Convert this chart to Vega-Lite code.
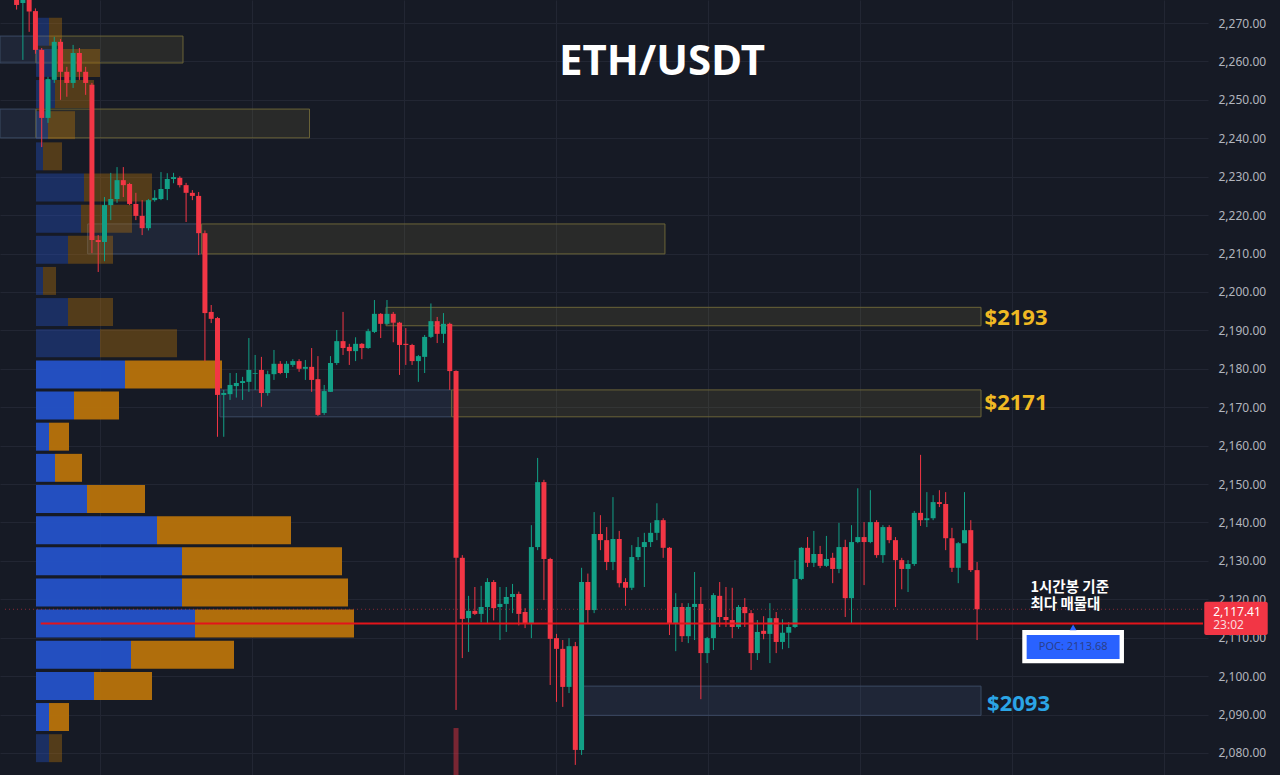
{
"$schema": "https://vega.github.io/schema/vega-lite/v6.json",
"width": 1208, "height": 775,
"autosize": {"type": "none"},
"padding": {"left": 0, "top": 0, "right": 72, "bottom": 0},
"background": "#161a25",
"config": {"view": {"stroke": null}, "font": "Noto Sans"},
"datasets": {
"candles": [
{"t":0,"o":2277.0,"h":2279.0,"l":2273.5,"c":2274.7},
{"t":1,"o":2275.2,"h":2279.0,"l":2260.4,"c":2277.0},
{"t":2,"o":2276.5,"h":2278.0,"l":2267.7,"c":2273.0},
{"t":3,"o":2273.1,"h":2273.8,"l":2262.0,"c":2263.0},
{"t":4,"o":2263.0,"h":2263.5,"l":2237.7,"c":2245.3},
{"t":5,"o":2245.3,"h":2256.0,"l":2244.0,"c":2255.4},
{"t":6,"o":2255.2,"h":2266.4,"l":2254.4,"c":2265.1},
{"t":7,"o":2265.1,"h":2265.8,"l":2250.0,"c":2257.3},
{"t":8,"o":2257.3,"h":2258.6,"l":2250.8,"c":2254.4},
{"t":9,"o":2254.4,"h":2264.3,"l":2253.1,"c":2262.2},
{"t":10,"o":2262.2,"h":2263.5,"l":2255.2,"c":2257.3},
{"t":11,"o":2257.3,"h":2258.6,"l":2251.3,"c":2254.4},
{"t":12,"o":2253.9,"h":2254.4,"l":2210.1,"c":2213.5},
{"t":13,"o":2213.5,"h":2214.8,"l":2205.2,"c":2213.0},
{"t":14,"o":2213.0,"h":2224.7,"l":2208.0,"c":2222.6},
{"t":15,"o":2222.6,"h":2231.0,"l":2218.7,"c":2224.2},
{"t":16,"o":2224.2,"h":2232.5,"l":2223.2,"c":2229.1},
{"t":17,"o":2229.1,"h":2232.5,"l":2224.7,"c":2227.8},
{"t":18,"o":2228.1,"h":2228.4,"l":2222.6,"c":2222.9},
{"t":19,"o":2222.9,"h":2225.8,"l":2218.7,"c":2219.8},
{"t":20,"o":2219.8,"h":2223.9,"l":2214.8,"c":2216.6},
{"t":21,"o":2216.6,"h":2224.2,"l":2216.0,"c":2223.9},
{"t":22,"o":2223.9,"h":2226.5,"l":2223.5,"c":2224.5},
{"t":23,"o":2224.2,"h":2231.2,"l":2223.9,"c":2226.8},
{"t":24,"o":2226.8,"h":2230.9,"l":2223.9,"c":2229.4},
{"t":25,"o":2229.4,"h":2231.0,"l":2228.3,"c":2229.9},
{"t":26,"o":2229.7,"h":2230.1,"l":2227.2,"c":2227.8},
{"t":27,"o":2227.8,"h":2228.4,"l":2218.2,"c":2225.8},
{"t":28,"o":2225.8,"h":2226.5,"l":2223.9,"c":2225.0},
{"t":29,"o":2225.0,"h":2226.0,"l":2209.6,"c":2215.3},
{"t":30,"o":2215.3,"h":2216.0,"l":2182.0,"c":2194.5},
{"t":31,"o":2194.8,"h":2196.6,"l":2191.9,"c":2193.0},
{"t":32,"o":2193.2,"h":2193.5,"l":2162.3,"c":2173.2},
{"t":33,"o":2173.2,"h":2174.5,"l":2162.3,"c":2173.7},
{"t":34,"o":2173.4,"h":2178.9,"l":2171.9,"c":2175.8},
{"t":35,"o":2175.5,"h":2178.9,"l":2172.5,"c":2176.3},
{"t":36,"o":2176.3,"h":2177.9,"l":2171.9,"c":2176.8},
{"t":37,"o":2176.6,"h":2188.0,"l":2174.0,"c":2179.7},
{"t":38,"o":2178.7,"h":2183.6,"l":2174.5,"c":2178.9},
{"t":39,"o":2179.7,"h":2183.1,"l":2170.1,"c":2173.7},
{"t":40,"o":2173.7,"h":2179.5,"l":2173.0,"c":2178.6},
{"t":41,"o":2178.6,"h":2184.9,"l":2177.1,"c":2181.3},
{"t":42,"o":2181.3,"h":2182.0,"l":2178.6,"c":2178.9},
{"t":43,"o":2178.9,"h":2182.0,"l":2177.6,"c":2181.3},
{"t":44,"o":2181.0,"h":2182.5,"l":2180.5,"c":2182.0},
{"t":45,"o":2182.0,"h":2182.5,"l":2179.2,"c":2180.0},
{"t":46,"o":2180.0,"h":2182.3,"l":2177.1,"c":2180.5},
{"t":47,"o":2180.5,"h":2185.4,"l":2174.0,"c":2177.1},
{"t":48,"o":2177.3,"h":2183.3,"l":2167.7,"c":2168.0},
{"t":49,"o":2168.5,"h":2175.8,"l":2168.0,"c":2174.2},
{"t":50,"o":2174.0,"h":2183.3,"l":2174.0,"c":2181.5},
{"t":51,"o":2181.5,"h":2190.1,"l":2181.0,"c":2187.2},
{"t":52,"o":2187.2,"h":2194.8,"l":2183.6,"c":2185.4},
{"t":53,"o":2185.7,"h":2186.5,"l":2181.0,"c":2184.6},
{"t":54,"o":2184.6,"h":2188.2,"l":2182.0,"c":2186.5},
{"t":55,"o":2186.5,"h":2186.7,"l":2182.5,"c":2185.4},
{"t":56,"o":2185.4,"h":2190.4,"l":2185.2,"c":2189.8},
{"t":57,"o":2189.6,"h":2197.9,"l":2189.3,"c":2194.3},
{"t":58,"o":2194.3,"h":2194.5,"l":2188.0,"c":2191.7},
{"t":59,"o":2191.7,"h":2197.9,"l":2191.4,"c":2194.3},
{"t":60,"o":2194.3,"h":2194.8,"l":2186.9,"c":2192.0},
{"t":61,"o":2192.0,"h":2192.2,"l":2178.4,"c":2186.2},
{"t":62,"o":2186.5,"h":2190.6,"l":2181.0,"c":2186.2},
{"t":63,"o":2186.2,"h":2186.5,"l":2181.0,"c":2182.0},
{"t":64,"o":2182.0,"h":2183.6,"l":2176.6,"c":2183.3},
{"t":65,"o":2183.1,"h":2188.8,"l":2178.9,"c":2188.3},
{"t":66,"o":2188.3,"h":2197.0,"l":2188.0,"c":2192.4},
{"t":67,"o":2192.4,"h":2193.5,"l":2186.7,"c":2189.1},
{"t":68,"o":2189.1,"h":2194.5,"l":2186.7,"c":2191.7},
{"t":69,"o":2191.7,"h":2192.0,"l":2174.5,"c":2179.4},
{"t":70,"o":2179.4,"h":2179.6,"l":2091.2,"c":2130.8},
{"t":71,"o":2130.8,"h":2131.5,"l":2104.7,"c":2114.9},
{"t":72,"o":2115.1,"h":2120.9,"l":2106.3,"c":2117.0},
{"t":73,"o":2117.0,"h":2123.2,"l":2115.9,"c":2116.2},
{"t":74,"o":2116.2,"h":2123.5,"l":2114.0,"c":2118.0},
{"t":75,"o":2118.0,"h":2125.5,"l":2113.8,"c":2124.5},
{"t":76,"o":2124.5,"h":2125.0,"l":2114.5,"c":2117.7},
{"t":77,"o":2118.0,"h":2123.2,"l":2109.4,"c":2118.8},
{"t":78,"o":2118.8,"h":2123.2,"l":2111.5,"c":2120.6},
{"t":79,"o":2120.6,"h":2124.0,"l":2116.4,"c":2121.4},
{"t":80,"o":2121.4,"h":2122.0,"l":2113.2,"c":2116.2},
{"t":81,"o":2116.7,"h":2117.7,"l":2112.5,"c":2113.8},
{"t":82,"o":2113.8,"h":2139.3,"l":2109.9,"c":2133.6},
{"t":83,"o":2133.6,"h":2156.8,"l":2132.8,"c":2150.5},
{"t":84,"o":2150.5,"h":2151.1,"l":2119.8,"c":2130.5},
{"t":85,"o":2130.5,"h":2130.8,"l":2097.7,"c":2109.7},
{"t":86,"o":2109.9,"h":2111.0,"l":2093.3,"c":2107.1},
{"t":87,"o":2107.1,"h":2109.4,"l":2092.0,"c":2097.2},
{"t":88,"o":2097.2,"h":2109.9,"l":2095.6,"c":2107.8},
{"t":89,"o":2107.8,"h":2108.9,"l":2076.9,"c":2080.8},
{"t":90,"o":2080.8,"h":2128.2,"l":2079.5,"c":2124.5},
{"t":91,"o":2124.5,"h":2126.7,"l":2113.8,"c":2117.2},
{"t":92,"o":2117.2,"h":2142.7,"l":2116.4,"c":2137.0},
{"t":93,"o":2137.0,"h":2141.9,"l":2132.8,"c":2135.4},
{"t":94,"o":2135.4,"h":2138.8,"l":2127.6,"c":2129.7},
{"t":95,"o":2129.7,"h":2146.6,"l":2127.6,"c":2135.7},
{"t":96,"o":2135.7,"h":2137.8,"l":2123.1,"c":2124.2},
{"t":97,"o":2124.5,"h":2125.5,"l":2118.3,"c":2123.0},
{"t":98,"o":2123.0,"h":2134.1,"l":2122.4,"c":2131.0},
{"t":99,"o":2131.0,"h":2136.2,"l":2130.2,"c":2133.6},
{"t":100,"o":2133.6,"h":2137.3,"l":2123.2,"c":2134.9},
{"t":101,"o":2134.9,"h":2139.9,"l":2133.6,"c":2137.3},
{"t":102,"o":2137.3,"h":2145.0,"l":2135.4,"c":2140.6},
{"t":103,"o":2140.6,"h":2141.1,"l":2130.8,"c":2133.4},
{"t":104,"o":2133.4,"h":2133.6,"l":2110.7,"c":2113.8},
{"t":105,"o":2113.8,"h":2121.6,"l":2106.5,"c":2118.0},
{"t":106,"o":2118.0,"h":2119.0,"l":2108.9,"c":2110.4},
{"t":107,"o":2110.4,"h":2119.0,"l":2108.6,"c":2118.0},
{"t":108,"o":2118.0,"h":2127.1,"l":2109.4,"c":2118.8},
{"t":109,"o":2118.8,"h":2123.2,"l":2094.0,"c":2106.0},
{"t":110,"o":2106.0,"h":2110.2,"l":2103.4,"c":2109.9},
{"t":111,"o":2109.9,"h":2121.6,"l":2106.8,"c":2121.1},
{"t":112,"o":2120.9,"h":2124.5,"l":2112.8,"c":2115.4},
{"t":113,"o":2115.4,"h":2123.2,"l":2112.8,"c":2114.6},
{"t":114,"o":2114.6,"h":2123.0,"l":2109.9,"c":2112.8},
{"t":115,"o":2112.8,"h":2118.5,"l":2112.3,"c":2118.0},
{"t":116,"o":2118.0,"h":2120.3,"l":2112.8,"c":2116.4},
{"t":117,"o":2116.4,"h":2117.2,"l":2101.6,"c":2106.0},
{"t":118,"o":2106.0,"h":2114.6,"l":2104.2,"c":2111.5},
{"t":119,"o":2111.8,"h":2115.6,"l":2109.6,"c":2111.0},
{"t":120,"o":2111.0,"h":2119.0,"l":2103.4,"c":2115.1},
{"t":121,"o":2115.1,"h":2116.7,"l":2106.0,"c":2108.9},
{"t":122,"o":2108.9,"h":2114.8,"l":2107.0,"c":2111.3},
{"t":123,"o":2111.3,"h":2114.1,"l":2107.3,"c":2112.8},
{"t":124,"o":2112.8,"h":2130.2,"l":2112.5,"c":2125.3},
{"t":125,"o":2125.3,"h":2133.6,"l":2125.0,"c":2133.4},
{"t":126,"o":2133.4,"h":2136.2,"l":2128.4,"c":2129.5},
{"t":127,"o":2129.5,"h":2137.8,"l":2128.4,"c":2131.8},
{"t":128,"o":2131.8,"h":2133.9,"l":2128.1,"c":2128.7},
{"t":129,"o":2128.7,"h":2136.5,"l":2128.4,"c":2130.5},
{"t":130,"o":2130.8,"h":2132.1,"l":2124.2,"c":2127.9},
{"t":131,"o":2127.9,"h":2139.9,"l":2126.8,"c":2133.6},
{"t":132,"o":2133.6,"h":2135.5,"l":2115.4,"c":2120.3},
{"t":133,"o":2120.3,"h":2139.3,"l":2113.8,"c":2134.9},
{"t":134,"o":2134.9,"h":2148.9,"l":2134.6,"c":2136.2},
{"t":135,"o":2136.2,"h":2140.1,"l":2123.7,"c":2134.9},
{"t":136,"o":2134.9,"h":2148.4,"l":2134.6,"c":2140.1},
{"t":137,"o":2140.1,"h":2140.6,"l":2130.8,"c":2131.5},
{"t":138,"o":2131.5,"h":2139.3,"l":2129.5,"c":2138.8},
{"t":139,"o":2138.8,"h":2139.3,"l":2134.6,"c":2135.4},
{"t":140,"o":2135.4,"h":2136.2,"l":2118.0,"c":2130.2},
{"t":141,"o":2130.2,"h":2130.8,"l":2122.6,"c":2127.9},
{"t":142,"o":2127.9,"h":2130.2,"l":2121.9,"c":2129.2},
{"t":143,"o":2129.2,"h":2143.0,"l":2128.7,"c":2142.5},
{"t":144,"o":2142.5,"h":2157.6,"l":2139.1,"c":2140.6},
{"t":145,"o":2140.6,"h":2147.9,"l":2138.8,"c":2141.1},
{"t":146,"o":2141.1,"h":2147.1,"l":2140.6,"c":2145.3},
{"t":147,"o":2145.3,"h":2148.4,"l":2144.0,"c":2144.8},
{"t":148,"o":2144.8,"h":2147.9,"l":2132.8,"c":2135.9},
{"t":149,"o":2135.9,"h":2138.6,"l":2127.1,"c":2128.2},
{"t":150,"o":2128.2,"h":2134.9,"l":2124.2,"c":2134.6},
{"t":151,"o":2134.6,"h":2147.9,"l":2134.6,"c":2138.0},
{"t":152,"o":2138.0,"h":2140.6,"l":2127.1,"c":2127.6},
{"t":153,"o":2127.6,"h":2129.7,"l":2109.4,"c":2117.41}
],
"profile": [
{"bin":0,"lo":2077.61,"hi":2084.89,"side":"buy","vol":13,"va":"out"},{"bin":0,"lo":2077.61,"hi":2084.89,"side":"sell","vol":13,"va":"out"},
{"bin":1,"lo":2085.72,"hi":2093.00,"side":"buy","vol":13,"va":"in"},{"bin":1,"lo":2085.72,"hi":2093.00,"side":"sell","vol":20,"va":"in"},
{"bin":2,"lo":2093.82,"hi":2101.10,"side":"buy","vol":58,"va":"in"},{"bin":2,"lo":2093.82,"hi":2101.10,"side":"sell","vol":58,"va":"in"},
{"bin":3,"lo":2101.93,"hi":2109.21,"side":"buy","vol":95,"va":"in"},{"bin":3,"lo":2101.93,"hi":2109.21,"side":"sell","vol":103,"va":"in"},
{"bin":4,"lo":2110.04,"hi":2117.32,"side":"buy","vol":159,"va":"in"},{"bin":4,"lo":2110.04,"hi":2117.32,"side":"sell","vol":159,"va":"in"},
{"bin":5,"lo":2118.15,"hi":2125.43,"side":"buy","vol":146,"va":"in"},{"bin":5,"lo":2118.15,"hi":2125.43,"side":"sell","vol":166,"va":"in"},
{"bin":6,"lo":2126.26,"hi":2133.54,"side":"buy","vol":146,"va":"in"},{"bin":6,"lo":2126.26,"hi":2133.54,"side":"sell","vol":160,"va":"in"},
{"bin":7,"lo":2134.36,"hi":2141.64,"side":"buy","vol":121,"va":"in"},{"bin":7,"lo":2134.36,"hi":2141.64,"side":"sell","vol":134,"va":"in"},
{"bin":8,"lo":2142.47,"hi":2149.75,"side":"buy","vol":51,"va":"in"},{"bin":8,"lo":2142.47,"hi":2149.75,"side":"sell","vol":58,"va":"in"},
{"bin":9,"lo":2150.58,"hi":2157.86,"side":"buy","vol":19,"va":"in"},{"bin":9,"lo":2150.58,"hi":2157.86,"side":"sell","vol":27,"va":"in"},
{"bin":10,"lo":2158.69,"hi":2165.97,"side":"buy","vol":13,"va":"in"},{"bin":10,"lo":2158.69,"hi":2165.97,"side":"sell","vol":20,"va":"in"},
{"bin":11,"lo":2166.80,"hi":2174.08,"side":"buy","vol":38,"va":"in"},{"bin":11,"lo":2166.80,"hi":2174.08,"side":"sell","vol":45,"va":"in"},
{"bin":12,"lo":2174.90,"hi":2182.18,"side":"buy","vol":89,"va":"in"},{"bin":12,"lo":2174.90,"hi":2182.18,"side":"sell","vol":97,"va":"in"},
{"bin":13,"lo":2183.01,"hi":2190.29,"side":"buy","vol":64,"va":"out"},{"bin":13,"lo":2183.01,"hi":2190.29,"side":"sell","vol":77,"va":"out"},
{"bin":14,"lo":2191.12,"hi":2198.40,"side":"buy","vol":32,"va":"out"},{"bin":14,"lo":2191.12,"hi":2198.40,"side":"sell","vol":45,"va":"out"},
{"bin":15,"lo":2199.23,"hi":2206.51,"side":"buy","vol":7,"va":"out"},{"bin":15,"lo":2199.23,"hi":2206.51,"side":"sell","vol":13,"va":"out"},
{"bin":16,"lo":2207.34,"hi":2214.62,"side":"buy","vol":32,"va":"out"},{"bin":16,"lo":2207.34,"hi":2214.62,"side":"sell","vol":45,"va":"out"},
{"bin":17,"lo":2215.44,"hi":2222.72,"side":"buy","vol":45,"va":"out"},{"bin":17,"lo":2215.44,"hi":2222.72,"side":"sell","vol":51,"va":"out"},
{"bin":18,"lo":2223.55,"hi":2230.83,"side":"buy","vol":48,"va":"out"},{"bin":18,"lo":2223.55,"hi":2230.83,"side":"sell","vol":68,"va":"out"},
{"bin":19,"lo":2231.66,"hi":2238.94,"side":"buy","vol":7,"va":"out"},{"bin":19,"lo":2231.66,"hi":2238.94,"side":"sell","vol":19,"va":"out"},
{"bin":20,"lo":2239.77,"hi":2247.05,"side":"buy","vol":12,"va":"out"},{"bin":20,"lo":2239.77,"hi":2247.05,"side":"sell","vol":27,"va":"out"},
{"bin":21,"lo":2247.88,"hi":2255.16,"side":"buy","vol":19,"va":"out"},{"bin":21,"lo":2247.88,"hi":2255.16,"side":"sell","vol":39,"va":"out"},
{"bin":22,"lo":2255.98,"hi":2263.26,"side":"buy","vol":19,"va":"out"},{"bin":22,"lo":2255.98,"hi":2263.26,"side":"sell","vol":45,"va":"out"},
{"bin":23,"lo":2264.09,"hi":2271.37,"side":"buy","vol":13,"va":"out"},{"bin":23,"lo":2264.09,"hi":2271.37,"side":"sell","vol":13,"va":"out"}
],
"zones": [
{"t0":-1.848,"t1":3.84,"lo":2259.6,"hi":2266.6,"kind":"blue"},
{"t0":3.84,"t1":27.06,"lo":2259.6,"hi":2266.6,"kind":"olive"},
{"t0":-1.848,"t1":3.84,"lo":2240.1,"hi":2247.6,"kind":"blue"},
{"t0":3.84,"t1":47.05,"lo":2240.1,"hi":2247.6,"kind":"olive"},
{"t0":12,"t1":30,"lo":2209.9,"hi":2217.7,"kind":"blue"},
{"t0":30,"t1":103.2,"lo":2209.9,"hi":2217.7,"kind":"olive"},
{"t0":59.13,"t1":153.13,"lo":2191.2,"hi":2196.0,"kind":"olive"},
{"t0":32.9,"t1":69.5,"lo":2167.5,"hi":2174.5,"kind":"blue"},
{"t0":69.5,"t1":153.13,"lo":2167.5,"hi":2174.5,"kind":"olive"},
{"t0":90.3,"t1":153.13,"lo":2089.8,"hi":2097.4,"kind":"blue"}
]
},
"layer": [
{
 "data": {"name": "zones"},
 "mark": {"type": "rect", "strokeWidth": 1, "fillOpacity": 0.12},
 "encoding": {
  "x": {"field": "t0", "type": "quantitative", "scale": {"domain": [-1.848, 188.99], "nice": false, "zero": false},
        "axis": {"orient": "bottom", "values": [14, 38, 62, 86, 110, 134, 158, 182], "grid": true, "gridColor": "#222633", "labels": false, "ticks": false, "domain": false, "title": null}},
  "x2": {"field": "t1"},
  "y": {"field": "lo", "type": "quantitative", "scale": {"domain": [2074.27, 2275.99], "nice": false, "zero": false},
        "axis": {"orient": "right", "values": [2080,2090,2100,2110,2120,2130,2140,2150,2160,2170,2180,2190,2200,2210,2220,2230,2240,2250,2260,2270], "format": ",.2f", "grid": true, "gridColor": "#222633", "ticks": false, "domain": false, "title": null, "labelColor": "#b2b5be", "labelFontSize": 12, "labelPadding": 10, "labelFont": "Noto Sans", "labelOverlap": false, "labelBound": false}},
  "y2": {"field": "hi"},
  "fill": {"field": "kind", "type": "nominal", "scale": {"domain": ["olive", "blue"], "range": ["#b8a54e", "#5f82bd"]}, "legend": null},
  "stroke": {"field": "kind", "type": "nominal", "scale": {"domain": ["olive", "blue"], "range": ["#6b6438", "#3b4a63"]}, "legend": null}
 }
},
{
 "data": {"name": "profile"},
 "transform": [{"stack": "vol", "groupby": ["bin"], "sort": [{"field": "side", "order": "ascending"}], "as": ["v0", "v1"]}],
 "mark": {"type": "rect"},
 "encoding": {
  "x": {"field": "v0", "type": "quantitative", "scale": {"domain": [-36, 1172], "nice": false, "zero": false}, "axis": null},
  "x2": {"field": "v1"},
  "y": {"field": "lo", "type": "quantitative", "scale": {"domain": [2074.27, 2275.99], "nice": false, "zero": false}, "axis": null},
  "y2": {"field": "hi"},
  "color": {"field": "side", "type": "nominal", "scale": {"domain": ["buy", "sell"], "range": ["#2452c8", "#b8730b"]}, "legend": null},
  "opacity": {"field": "va", "type": "nominal", "scale": {"domain": ["in", "out"], "range": [0.95, 0.38]}, "legend": null}
 }
},
{
 "data": {"values": [{"t": 70, "vol": 1000}]},
 "mark": {"type": "bar", "orient": "vertical", "size": 5, "color": "#f23645", "opacity": 0.45},
 "encoding": {
  "x": {"field": "t", "type": "quantitative", "scale": {"domain": [-1.848, 188.99], "nice": false, "zero": false}, "axis": null},
  "y": {"field": "vol", "type": "quantitative", "scale": {"domain": [0, 16500], "nice": false, "zero": true}, "axis": null}
 }
},
{
 "layer": [
  {
   "data": {"name": "candles"},
   "mark": {"type": "rule", "strokeWidth": 1},
   "encoding": {
    "x": {"field": "t", "type": "quantitative", "scale": {"domain": [-1.848, 188.99], "nice": false, "zero": false}, "axis": null},
    "y": {"field": "l", "type": "quantitative", "scale": {"domain": [2074.27, 2275.99], "nice": false, "zero": false}, "axis": null},
    "y2": {"field": "h"},
    "color": {"condition": {"test": "datum.c >= datum.o", "value": "#12a086"}, "value": "#f23645"}
   }
  },
  {
   "data": {"name": "candles"},
   "mark": {"type": "bar", "orient": "vertical", "size": 5},
   "encoding": {
    "x": {"field": "t", "type": "quantitative"},
    "y": {"field": "o", "type": "quantitative"},
    "y2": {"field": "c"},
    "color": {"condition": {"test": "datum.c >= datum.o", "value": "#12a086"}, "value": "#f23645"}
   }
  },
  {
   "data": {"values": [{"t0": -1.848, "t1": 188.99, "p": 2117.41}]},
   "mark": {"type": "rule", "strokeWidth": 1, "strokeDash": [1, 3], "color": "#f23645", "opacity": 0.55},
   "encoding": {"x": {"field": "t0", "type": "quantitative"}, "x2": {"field": "t1"}, "y": {"field": "p", "type": "quantitative"}}
  },
  {
   "data": {"values": [{"t0": 3.84, "t1": 188.99, "p": 2113.68}]},
   "mark": {"type": "rule", "strokeWidth": 2, "color": "#e3141b"},
   "encoding": {"x": {"field": "t0", "type": "quantitative"}, "x2": {"field": "t1"}, "y": {"field": "p", "type": "quantitative"}}
  },
  {
   "data": {"values": [
     {"t": 154.2, "p": 2191.4, "label": "$2193", "kind": "gold"},
     {"t": 154.2, "p": 2169.28, "label": "$2171", "kind": "gold"},
     {"t": 154.6, "p": 2091.01, "label": "$2093", "kind": "cyan"}
   ]},
   "mark": {"type": "text", "align": "left", "baseline": "alphabetic", "fontSize": 22, "fontWeight": "bold", "font": "Noto Sans"},
   "encoding": {
    "x": {"field": "t", "type": "quantitative"},
    "y": {"field": "p", "type": "quantitative"},
    "text": {"field": "label"},
    "color": {"condition": {"test": "datum.kind === 'cyan'", "value": "#2ba5e6"}, "value": "#f0b923"}
   }
  },
  {
   "data": {"values": [{"t": 102.8, "p": 2256.47, "label": "ETH/USDT"}]},
   "mark": {"type": "text", "align": "center", "baseline": "alphabetic", "fontSize": 42, "fontWeight": "bold", "font": "Noto Sans", "color": "#ffffff"},
   "encoding": {"x": {"field": "t", "type": "quantitative"}, "y": {"field": "p", "type": "quantitative"}, "text": {"field": "label"}}
  },
  {
   "data": {"values": [{"t": 161.5, "p": 2123.0, "label": "1시간봉 기준"}, {"t": 161.5, "p": 2118.4, "label": "최다 매물대"}]},
   "mark": {"type": "text", "align": "left", "baseline": "middle", "fontSize": 14.5, "fontWeight": "bold", "font": "Noto Sans CJK KR", "color": "#ffffff"},
   "encoding": {"x": {"field": "t", "type": "quantitative"}, "y": {"field": "p", "type": "quantitative"}, "text": {"field": "label"}}
  },
  {
   "data": {"values": [{"t0": 160.2, "t1": 176.4, "lo": 2103.35, "hi": 2112.01}]},
   "mark": {"type": "rect", "color": "#ffffff"},
   "encoding": {"x": {"field": "t0", "type": "quantitative"}, "x2": {"field": "t1"}, "y": {"field": "lo", "type": "quantitative"}, "y2": {"field": "hi"}}
  },
  {
   "data": {"values": [{"t0": 160.9, "t1": 175.7, "lo": 2104.46, "hi": 2110.71}]},
   "mark": {"type": "rect", "color": "#2962ff"},
   "encoding": {"x": {"field": "t0", "type": "quantitative"}, "x2": {"field": "t1"}, "y": {"field": "lo", "type": "quantitative"}, "y2": {"field": "hi"}}
  },
  {
   "data": {"values": [{"t": 168.3, "p": 2107.51, "label": "POC: 2113.68"}]},
   "mark": {"type": "text", "align": "center", "baseline": "middle", "fontSize": 11, "font": "Noto Sans", "color": "#2a3f8c"},
   "encoding": {"x": {"field": "t", "type": "quantitative"}, "y": {"field": "p", "type": "quantitative"}, "text": {"field": "label"}}
  },
  {
   "data": {"values": [{"t": 168.3, "p": 2112.7}]},
   "mark": {"type": "point", "shape": "triangle-up", "size": 45, "filled": true, "color": "#2962ff", "opacity": 1},
   "encoding": {"x": {"field": "t", "type": "quantitative"}, "y": {"field": "p", "type": "quantitative"}}
  },
  {
   "data": {"values": [{"t0": 189.19, "t1": 199.3, "lo": 2110.72, "hi": 2119.38}]},
   "mark": {"type": "rect", "color": "#f23645", "cornerRadius": 2},
   "encoding": {"x": {"field": "t0", "type": "quantitative"}, "x2": {"field": "t1"}, "y": {"field": "lo", "type": "quantitative"}, "y2": {"field": "hi"}}
  },
  {
   "data": {"values": [{"t": 190.62, "p": 2116.78, "label": "2,117.41", "k": "a"}, {"t": 190.62, "p": 2113.31, "label": "23:02", "k": "b"}]},
   "mark": {"type": "text", "align": "left", "baseline": "middle", "fontSize": 12, "font": "Noto Sans"},
   "encoding": {
    "x": {"field": "t", "type": "quantitative"}, "y": {"field": "p", "type": "quantitative"}, "text": {"field": "label"},
    "color": {"condition": {"test": "datum.k === 'a'", "value": "#ffffff"}, "value": "#fbd9dd"}
   }
  }
 ]
}
],
"resolve": {"scale": {"x": "independent", "y": "independent", "color": "independent", "opacity": "independent", "fill": "independent", "stroke": "independent"}}
}
